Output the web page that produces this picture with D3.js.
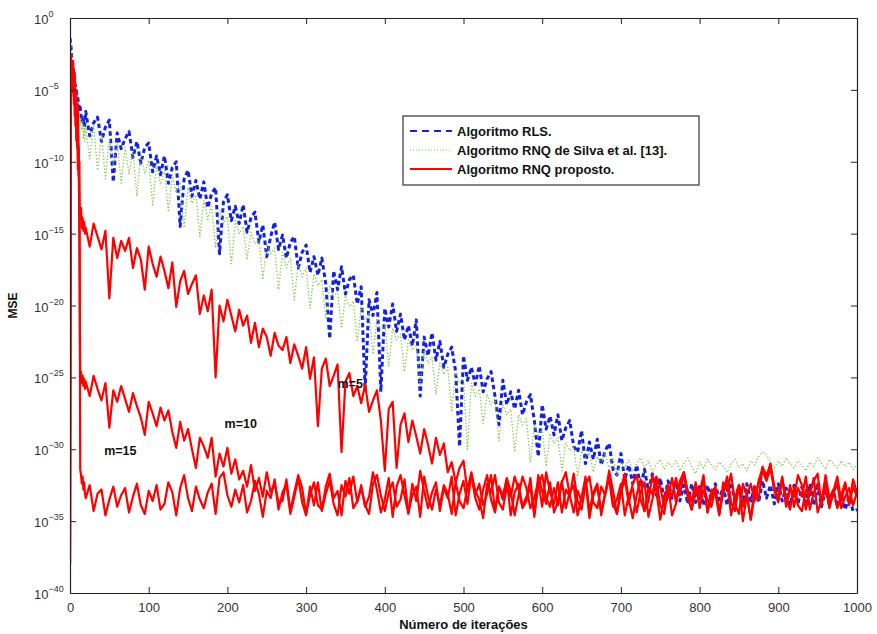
<!DOCTYPE html>
<html><head><meta charset="utf-8">
<script src="https://cdn.jsdelivr.net/npm/d3@7"></script>
<style>
body{margin:0;background:#fff}
svg{display:block}
text{font-family:"Liberation Sans",Arial,Helvetica,sans-serif}
</style>
</head><body>
<svg id="chart" width="877" height="634"></svg>
<script>
// ---------------- DATA (values are log10(MSE)) ----------------
const xTickValues = [0,100,200,300,400,500,600,700,800,900,1000];
const yTickExponents = [0,-5,-10,-15,-20,-25,-30,-35,-40];
const legendLabels = ["Algoritmo RLS.","Algoritmo RNQ de Silva et al. [13].","Algoritmo RNQ proposto."];
const curveLabels = ["m=5","m=10","m=15"];
const curveLabelIter = [356,217,64];
const curveLabelExp = [-25.4,-28.2,-30.1];

// iterations 0..19 (step 1)
const rlsHead   = [-1.4,-1.8,-2.6,-3.0,-3.5,-3.9,-4.4,-4.8,-5.0,-5.5,-5.6,-6.0,-6.4,-6.2,-6.8,-7.2,-6.9,-7.0,-7.6,-7.3];
const silvaHead = [-0.4,-2.0,-2.4,-3.4,-3.2,-4.3,-4.2,-5.4,-5.1,-6.2,-5.9,-6.8,-6.6,-7.4,-7.0,-7.8,-7.2,-8.4,-7.5,-8.6];
const m5Head    = [-38,-2.5,-3.2,-4.5,-3.0,-5.5,-3.8,-6.5,-5.0,-8.0,-6.0,-9.5,-13.5,-14.0,-13.2,-14.6,-13.9,-14.8,-14.2,-15.0];
const m10Head   = [-38,-2.8,-4.0,-3.3,-5.2,-4.1,-6.8,-5.4,-8.5,-7.0,-10.5,-9.0,-16,-25.0,-24.6,-25.4,-24.9,-25.6,-25.1,-25.8];
const m15Head   = [-38,-3.0,-3.6,-5.0,-4.2,-6.0,-5.0,-7.5,-6.3,-9.0,-8.0,-11.0,-10.0,-31.4,-31.8,-32.4,-31.9,-32.8,-32.3,-33.1];

// iterations 20..1000 (step 5)
const rlsBody = [
-6.5,-8.2,-7.3,-6.9,-8.6,-7.6,-7.1,-11.4,-8.0,-9.1,
-8.4,-7.9,-9.7,-8.6,-10.1,-9.0,-8.7,-10.7,-9.6,-10.9,
-9.6,-11.5,-10.4,-10.0,-14.5,-11.2,-10.6,-12.4,-11.3,-12.6,
-11.4,-13.2,-12.2,-11.8,-16.4,-12.8,-12.3,-14.1,-13.1,-14.3,
-13.0,-14.9,-13.9,-13.5,-15.6,-14.4,-16.6,-15.2,-14.2,-16.1,
-15.1,-16.7,-15.6,-15.2,-17.4,-16.3,-15.8,-17.7,-16.6,-17.9,
-16.7,-18.5,-22.3,-17.6,-18.9,-17.3,-19.2,-18.2,-17.9,-19.9,
-18.7,-25.9,-19.6,-20.7,-19.1,-26.0,-20.2,-21.5,-19.9,-21.8,
-20.6,-22.4,-21.4,-22.8,-21.0,-26.3,-22.2,-23.5,-21.9,-23.8,
-22.5,-24.3,-23.4,-22.9,-24.6,-29.8,-23.5,-25.2,-24.3,-25.5,
-24.2,-26.0,-25.1,-24.6,-26.3,-28.3,-25.2,-26.9,-26.0,-27.2,
-25.9,-27.6,-26.7,-26.2,-28.0,-30.5,-26.9,-28.6,-27.7,-29.0,
-27.6,-29.4,-28.5,-28.0,-29.8,-30.2,-28.7,-31.0,-29.5,-30.7,
-29.3,-31.1,-30.1,-29.6,-31.4,-31.8,-30.3,-32.1,-31.1,-32.4,
-31.1,-32.6,-31.4,-32.9,-31.7,-33.2,-32.0,-33.5,-32.2,-33.4,
-32.3,-33.6,-32.5,-33.8,-32.4,-33.7,-32.6,-33.9,-32.5,-33.6,
-32.4,-33.5,-32.6,-33.9,-32.3,-33.7,-32.5,-33.8,-32.4,-33.6,
-32.6,-33.7,-32.2,-33.4,-32.5,-33.8,-32.4,-33.6,-32.7,-33.9,
-32.5,-33.8,-32.6,-33.7,-32.4,-33.9,-32.6,-34.0,-32.8,-33.9,
-32.9,-34.0,-33.1,-34.2,-33.3,-34.3,-34.2];

const silvaBody = [
-7.6,-9.8,-7.4,-10.6,-8.1,-11.2,-8.4,-10.2,-8.6,-11.5,
-9.0,-10.9,-9.2,-12.4,-9.5,-10.8,-9.9,-13.0,-10.2,-11.6,
-10.6,-13.5,-10.9,-12.2,-11.4,-14.6,-11.8,-12.9,-12.3,-15.2,
-12.7,-14.0,-13.1,-16.0,-13.4,-14.3,-13.8,-17.2,-14.1,-15.0,
-14.5,-16.8,-14.9,-15.7,-15.3,-18.2,-15.7,-16.4,-16.0,-18.9,
-16.3,-17.4,-16.7,-19.6,-17.1,-18.0,-17.4,-20.2,-17.8,-18.6,
-18.2,-20.9,-18.6,-19.4,-19.0,-21.6,-19.3,-20.1,-19.7,-22.5,
-20.1,-21.0,-20.5,-23.4,-20.9,-21.7,-21.3,-24.2,-21.6,-22.4,
-22.0,-24.6,-22.4,-23.1,-22.8,-25.5,-23.2,-24.0,-23.6,-26.2,
-24.0,-24.8,-24.3,-27.4,-24.7,-25.4,-25.1,-30.0,-25.4,-26.3,
-25.8,-28.2,-26.2,-26.9,-26.5,-29.4,-26.9,-27.6,-27.2,-30.2,
-27.6,-28.3,-27.9,-30.9,-28.3,-29.0,-28.6,-31.2,-28.9,-29.6,
-29.2,-31.5,-29.5,-30.1,-29.8,-31.9,-30.1,-30.6,-30.3,-31.6,
-30.5,-31.0,-30.2,-31.4,-30.6,-31.8,-30.9,-31.3,-30.7,-31.5,
-31.0,-30.6,-31.3,-30.8,-31.6,-31.1,-30.7,-31.4,-30.9,-31.2,
-30.8,-31.5,-31.0,-30.6,-31.2,-31.7,-30.9,-31.3,-30.7,-31.1,
-31.4,-30.9,-31.2,-31.6,-31.0,-30.7,-31.3,-31.0,-31.5,-30.8,
-31.1,-30.5,-30.2,-30.4,-30.9,-31.3,-30.8,-31.2,-30.6,-31.0,
-31.3,-30.8,-31.1,-31.5,-30.9,-31.2,-30.6,-31.0,-31.4,-30.7,
-31.0,-31.3,-30.8,-31.2,-30.9,-31.4,-31.1];

const m5Body = [
-14.6,-15.9,-14.3,-15.2,-16.1,-14.8,-19.5,-15.3,-16.7,-15.5,
-16.2,-15.3,-17.4,-16.0,-16.8,-18.9,-15.9,-17.1,-18.0,-16.6,
-17.6,-18.8,-17.0,-20.1,-18.3,-17.6,-19.2,-18.5,-17.9,-20.6,
-19.3,-20.4,-18.9,-25.0,-20.0,-21.1,-19.6,-20.7,-21.8,-20.3,
-21.4,-20.7,-22.6,-21.2,-22.9,-21.6,-22.2,-23.5,-21.9,-22.8,
-23.1,-22.2,-24.0,-22.7,-23.5,-24.4,-22.9,-25.1,-23.6,-28.4,
-24.4,-23.7,-25.6,-24.9,-24.1,-30.2,-25.3,-24.7,-26.3,-25.6,
-26.8,-25.5,-27.4,-26.6,-25.9,-28.0,-31.5,-27.2,-26.7,-31.3,
-28.3,-27.5,-29.5,-28.0,-29.1,-30.3,-28.6,-29.7,-31.0,-29.2,
-30.4,-29.6,-31.6,-30.9,-32.3,-31.3,-30.8,-32.9,-31.6,-33.2,
-32.4,-33.9,-33.1,-31.8,-34.3,-32.6,-33.5,-32.0,-32.9,-34.6,
-33.2,-31.9,-32.7,-34.1,-33.4,-32.2,-34.0,-31.6,-33.0,-33.8,
-32.3,-34.4,-32.8,-33.3,-31.7,-33.6,-34.2,-32.5,-31.9,-33.7,
-34.1,-32.6,-33.2,-31.5,-32.9,-34.5,-33.0,-32.1,-33.8,-32.4,
-31.8,-33.5,-34.3,-32.7,-33.1,-31.9,-32.6,-34.0,-33.3,-32.0,
-33.7,-32.2,-31.6,-33.4,-34.2,-32.5,-33.0,-31.8,-34.4,-32.8,
-33.1,-34.6,-32.3,-32.9,-31.7,-33.8,-34.5,-32.4,-33.2,-34.9,
-32.6,-33.5,-31.2,-32.0,-31.0,-32.8,-33.6,-31.9,-34.0,-32.7,
-33.3,-31.8,-32.5,-34.2,-33.0,-32.2,-31.7,-33.9,-32.6,-34.1,
-32.9,-31.9,-33.6,-32.4,-33.8,-32.1,-33.0];

const m10Body = [
-25.3,-26.3,-24.9,-25.8,-26.6,-25.4,-28.5,-25.9,-26.7,-25.6,
-26.5,-27.4,-26.1,-27.0,-27.8,-29.0,-26.7,-27.5,-28.4,-27.1,
-28.0,-27.3,-28.8,-29.9,-28.1,-29.4,-28.6,-30.0,-31.3,-29.2,
-29.8,-30.6,-29.2,-31.9,-30.3,-31.2,-29.9,-31.7,-30.7,-32.1,
-31.5,-32.6,-31.1,-32.9,-32.0,-33.3,-31.6,-33.0,-32.4,-33.7,
-33.6,-32.1,-34.3,-33.0,-31.8,-32.7,-34.5,-33.2,-32.3,-33.9,
-34.2,-32.6,-31.7,-33.4,-32.9,-34.6,-32.2,-33.1,-31.9,-33.7,
-32.5,-34.0,-33.3,-31.6,-32.8,-34.4,-33.5,-32.0,-34.7,-32.6,
-31.8,-33.2,-34.5,-32.4,-33.6,-31.5,-32.9,-34.1,-33.0,-32.3,
-34.3,-32.7,-33.4,-31.9,-34.6,-33.1,-32.2,-33.8,-31.7,-32.9,
-33.5,-34.8,-32.4,-33.0,-31.8,-33.7,-34.2,-32.6,-33.3,-31.9,
-32.8,-34.1,-33.6,-32.0,-34.7,-32.5,-31.8,-33.4,-34.0,-32.7,
-33.9,-32.3,-31.6,-33.2,-34.4,-32.9,-33.6,-31.9,-34.3,-33.0,
-32.4,-34.6,-33.1,-32.0,-33.8,-34.5,-32.7,-31.7,-33.5,-34.8,
-33.2,-32.1,-34.3,-33.6,-31.8,-32.9,-34.9,-33.4,-32.5,-34.6,
-33.8,-32.4,-31.6,-33.1,-34.2,-32.8,-33.5,-32.0,-34.4,-33.3,
-32.6,-34.5,-33.0,-31.9,-33.7,-34.3,-32.5,-35.0,-33.2,-32.4,
-33.6,-32.2,-31.3,-31.8,-31.1,-32.6,-33.4,-32.0,-33.9,-32.5,
-34.0,-32.7,-33.3,-31.9,-34.2,-33.0,-32.4,-33.7,-31.8,-33.4,
-32.8,-34.1,-33.2,-32.3,-33.9,-32.6,-33.3];

const m15Body = [
-33.4,-32.5,-34.3,-33.1,-32.8,-34.6,-33.5,-32.6,-34.0,-33.2,
-32.7,-34.4,-33.3,-32.4,-33.9,-34.5,-32.9,-33.6,-32.5,-34.2,
-33.8,-32.3,-33.0,-34.6,-32.7,-31.8,-33.4,-34.3,-32.6,-33.5,
-34.1,-33.0,-32.4,-34.5,-32.0,-31.6,-33.2,-34.0,-32.8,-33.7,
-32.5,-34.4,-33.6,-32.2,-33.1,-34.7,-32.9,-33.4,-32.1,-34.2,
-33.0,-32.4,-34.5,-33.3,-32.0,-33.7,-34.6,-32.6,-33.9,-32.3,
-34.3,-33.1,-32.2,-33.8,-34.6,-32.5,-33.3,-32.0,-34.1,-33.6,
-32.7,-33.9,-34.5,-32.4,-31.8,-33.2,-34.3,-33.0,-32.3,-34.0,
-33.5,-32.1,-34.4,-33.2,-32.6,-34.7,-31.9,-33.3,-34.2,-32.8,
-33.9,-32.5,-33.1,-34.5,-32.3,-33.6,-34.1,-32.7,-31.9,-33.4,
-34.2,-32.8,-31.8,-33.5,-34.4,-32.6,-33.2,-32.1,-34.6,-33.0,
-32.4,-34.0,-33.3,-32.7,-34.5,-31.8,-32.9,-33.8,-32.3,-34.4,
-33.6,-32.2,-34.1,-33.0,-32.5,-34.6,-33.3,-32.1,-34.8,-33.2,
-32.6,-34.3,-33.1,-32.0,-34.0,-33.5,-32.4,-34.6,-33.2,-32.7,
-34.4,-33.0,-32.3,-34.7,-33.5,-32.1,-33.9,-34.5,-32.6,-33.3,
-32.0,-33.2,-31.7,-32.9,-33.6,-32.3,-34.1,-32.8,-33.5,-34.0,
-32.7,-34.4,-33.0,-32.2,-34.6,-33.4,-32.5,-34.0,-33.1,-34.9,
-33.2,-32.4,-31.5,-32.2,-31.3,-32.9,-33.7,-32.1,-33.4,-34.2,
-32.6,-33.9,-34.3,-32.8,-33.2,-32.0,-34.4,-33.5,-32.3,-33.8,
-33.1,-32.4,-34.1,-33.3,-32.7,-33.9,-33.0];

// ---------------- CHART ----------------
const svg = d3.select("#chart");
const L = 70, R = 857, T = 18, B = 593;
const x = d3.scaleLinear().domain([0, 1000]).range([L, R]);
const y = d3.scaleLog().domain([1e-40, 1]).range([B, T]);

function toPoints(head, body) {
  return head.map((v, i) => [i, Math.pow(10, v)])
    .concat(body.map((v, i) => [20 + 5 * i, Math.pow(10, v)]));
}

svg.append("defs").append("clipPath").attr("id", "plotclip")
  .append("rect").attr("x", L).attr("y", T).attr("width", R - L).attr("height", B - T);

const line = d3.line().x(d => x(d[0])).y(d => y(d[1]));
const plot = svg.append("g").attr("clip-path", "url(#plotclip)");

const series = [
  {pts: toPoints(rlsHead, rlsBody), color: "#1422dc", width: 3, dash: "4.5,3"},
  {pts: toPoints(silvaHead, silvaBody), color: "#86c84a", width: 1.3, dash: "1.3,2"},
  {pts: toPoints(m5Head, m5Body), color: "#ff0000", width: 2.2, dash: null},
  {pts: toPoints(m10Head, m10Body), color: "#ff0000", width: 2.2, dash: null},
  {pts: toPoints(m15Head, m15Body), color: "#ff0000", width: 2.2, dash: null}
];
series.forEach(s => {
  plot.append("path").datum(s.pts)
    .attr("d", line).attr("fill", "none")
    .attr("stroke", s.color).attr("stroke-width", s.width)
    .attr("stroke-linejoin", "round")
    .attr("stroke-dasharray", s.dash);
});

// axes
const axisColor = "#222";
const gx = svg.append("g").attr("transform", `translate(0,${B})`)
  .call(d3.axisBottom(x).tickValues(xTickValues).tickSizeInner(-6).tickSizeOuter(0).tickPadding(10).tickFormat(d3.format("d")));
const gxt = svg.append("g").attr("transform", `translate(0,${T})`)
  .call(d3.axisTop(x).tickValues(xTickValues).tickSizeInner(-6).tickSizeOuter(0).tickFormat(""));
const yTicks = yTickExponents.map(e => Math.pow(10, e));
const gy = svg.append("g").attr("transform", `translate(${L},0)`)
  .call(d3.axisLeft(y).tickValues(yTicks).tickSizeInner(-6).tickSizeOuter(0).tickFormat(""));
const gyr = svg.append("g").attr("transform", `translate(${R},0)`)
  .call(d3.axisRight(y).tickValues(yTicks).tickSizeInner(-6).tickSizeOuter(0).tickFormat(""));
[gx, gxt, gy, gyr].forEach(g => {
  g.select(".domain").attr("stroke", axisColor).attr("stroke-width", 1.2);
  g.selectAll(".tick line").attr("stroke", axisColor);
});
gx.selectAll(".tick text").attr("font-size", 13).attr("fill", "#333")
  .attr("font-family", "'Liberation Sans',Arial,sans-serif");

// y tick labels with superscript
yTickExponents.forEach(e => {
  const t = svg.append("text").attr("x", 34).attr("y", y(Math.pow(10, e)) + 6)
    .attr("font-size", 13).attr("fill", "#333");
  t.append("tspan").text("10");
  t.append("tspan").attr("dy", -7).attr("font-size", 9).text(e === 0 ? "0" : "\u2212" + Math.abs(e));
});

// axis titles
svg.append("text").attr("x", (L + R) / 2).attr("y", 629).attr("text-anchor", "middle")
  .attr("font-size", 13).attr("font-weight", "bold").attr("fill", "#111").text("Número de iterações");
svg.append("text").attr("transform", `translate(17,${(T + B) / 2}) rotate(-90)`)
  .attr("text-anchor", "middle").attr("font-size", 12).attr("font-weight", "bold").attr("fill", "#111").text("MSE");

// curve labels
curveLabels.forEach((lab, i) => {
  svg.append("text").attr("x", x(curveLabelIter[i])).attr("y", y(Math.pow(10, curveLabelExp[i])) + 4.5)
    .attr("text-anchor", "middle").attr("font-size", 12.5).attr("font-weight", "bold").attr("fill", "#111").text(lab);
});

// legend
const lg = svg.append("g");
lg.append("rect").attr("x", 403).attr("y", 116).attr("width", 296).attr("height", 69)
  .attr("fill", "#fff").attr("stroke", "#333").attr("stroke-width", 1.2);
const legStyles = series.slice(0, 3);
legendLabels.forEach((lab, i) => {
  const ly = 131 + i * 19;
  lg.append("line").attr("x1", 410).attr("x2", 452).attr("y1", ly).attr("y2", ly)
    .attr("stroke", legStyles[i].color).attr("stroke-width", i === 1 ? 1.2 : 2)
    .attr("stroke-dasharray", i === 0 ? "7,5" : (i === 1 ? "1,2" : null));
  lg.append("text").attr("x", 457).attr("y", ly + 4.5).attr("font-size", 13)
    .attr("font-weight", "bold").attr("fill", "#111").text(lab);
});
</script>
</body></html>
